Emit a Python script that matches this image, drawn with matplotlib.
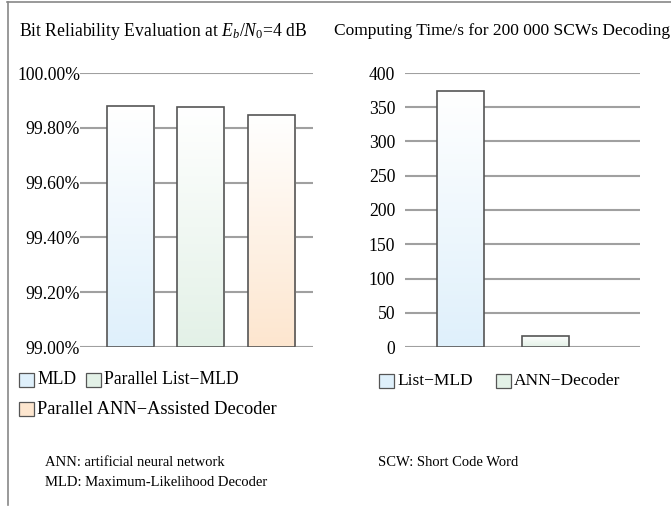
import matplotlib
matplotlib.use("Agg")
import matplotlib.pyplot as plt
from matplotlib.patches import Rectangle
from matplotlib.lines import Line2D
from matplotlib.colors import LinearSegmentedColormap
import numpy as np

plt.rcParams.update({"font.family": "Liberation Serif",
                     "mathtext.fontset": "custom",
                     "mathtext.rm": "Liberation Serif",
                     "mathtext.it": "Liberation Serif:italic"})

# data
rel_labels = ["MLD", "Parallel List\u2212MLD", "Parallel ANN\u2212Assisted Decoder"]
rel_values = [99.88, 99.875, 99.847]
rel_ticks = [99.0, 99.2, 99.4, 99.6, 99.8, 100.0]

time_labels = ["List\u2212MLD", "ANN\u2212Decoder"]
time_values = [374, 16.5]
time_ticks = [0, 50, 100, 150, 200, 250, 300, 350, 400]

colors = ["#dff0fb", "#e3f1e7", "#fde6cf"]
edge = "#555555"
grid_c = "#a0a0a0"

W, H = 671, 507
fig = plt.figure(figsize=(W / 100, H / 100), dpi=100)


def fx(px):
    return px / W


def fy(py):
    return 1 - py / H


def gradient_bars(ax, x, vals, width, cols, base):
    bars = ax.bar(x, np.array(vals) - base, width, bottom=base, color="none",
                  edgecolor=edge, linewidth=1.2, zorder=3)
    grad = np.linspace(0, 1, 256).reshape(-1, 1)
    for b, c in zip(bars, cols):
        cmap = LinearSegmentedColormap.from_list("g", ["white", c])
        x0, y0 = b.get_x(), b.get_y()
        im = ax.imshow(grad, cmap=cmap, aspect="auto", origin="upper",
                       extent=[x0, x0 + b.get_width(), y0, y0 + b.get_height()],
                       zorder=2)
        im.set_clip_path(b)
    return bars


def style(ax):
    for s in ax.spines.values():
        s.set_visible(False)
    ax.yaxis.grid(True, color=grid_c, linewidth=1.5, zorder=0)
    ax.set_axisbelow(True)
    ax.set_xticks([])
    ax.tick_params(axis="y", length=0, labelsize=12.7)


# left chart: reliability
ax1 = fig.add_axes([fx(80), fy(347), fx(313 - 80), (347 - 73) / H])
gradient_bars(ax1, np.arange(3), rel_values, 0.667, colors, 99.0)
ax1.set_xlim(-0.716, 2.589)
ax1.set_ylim(99.0, 100.0)
ax1.set_yticks(rel_ticks)
ax1.set_yticklabels(["%.2f%%" % t for t in rel_ticks])
style(ax1)
ax1.tick_params(axis="y", pad=0)

# right chart: computing time
ax2 = fig.add_axes([fx(405), fy(347), fx(640 - 405), (347 - 73) / H])
gradient_bars(ax2, np.arange(2), time_values, 0.553, colors[:2], 0)
ax2.set_xlim(-0.653, 2.112)
ax2.set_ylim(0, 400)
ax2.set_yticks(time_ticks)
style(ax2)
ax2.tick_params(axis="y", pad=7)

# titles
fig.text(fx(19), fy(31), r"Bit Reliability Evaluation at $E_b/N_0$=4 dB",
         fontsize=12.7, va="center", ha="left")
fig.text(fx(334), fy(31), "Computing Time/s for 200 000 SCWs Decoding",
         fontsize=12.5, va="center", ha="left")


# legends
def legend_item(x, y, label, color, size=12.7):
    fig.patches.append(Rectangle((fx(x), fy(y + 7)), fx(15), 14 / H,
                                 transform=fig.transFigure, facecolor=color,
                                 edgecolor=edge, linewidth=0.9))
    fig.text(fx(x + 18), fy(y), label, fontsize=size, va="center", ha="left")


legend_item(19, 380, rel_labels[0], colors[0])
legend_item(86, 380, rel_labels[1], colors[1])
legend_item(19, 409, rel_labels[2], colors[2], 13.2)
legend_item(379, 381, time_labels[0], colors[0], 12.5)
legend_item(496, 381, time_labels[1], colors[1], 12.5)

# notes
fig.text(fx(45), fy(463), "ANN: artificial neural network", fontsize=10.5,
         va="center", ha="left")
fig.text(fx(45), fy(482), "MLD: Maximum-Likelihood Decoder", fontsize=10.5,
         va="center", ha="left")
fig.text(fx(378), fy(463), "SCW: Short Code Word", fontsize=10.5,
         va="center", ha="left")

# frame lines (top and left)
fig.lines.append(Line2D([fx(7), 1], [fy(1.5), fy(1.5)], transform=fig.transFigure,
                        color="#888888", linewidth=1.2))
fig.lines.append(Line2D([fx(7.5), fx(7.5)], [fy(1.5), fy(505)], transform=fig.transFigure,
                        color="#888888", linewidth=1.2))

fig.savefig("out.png", dpi=100)
